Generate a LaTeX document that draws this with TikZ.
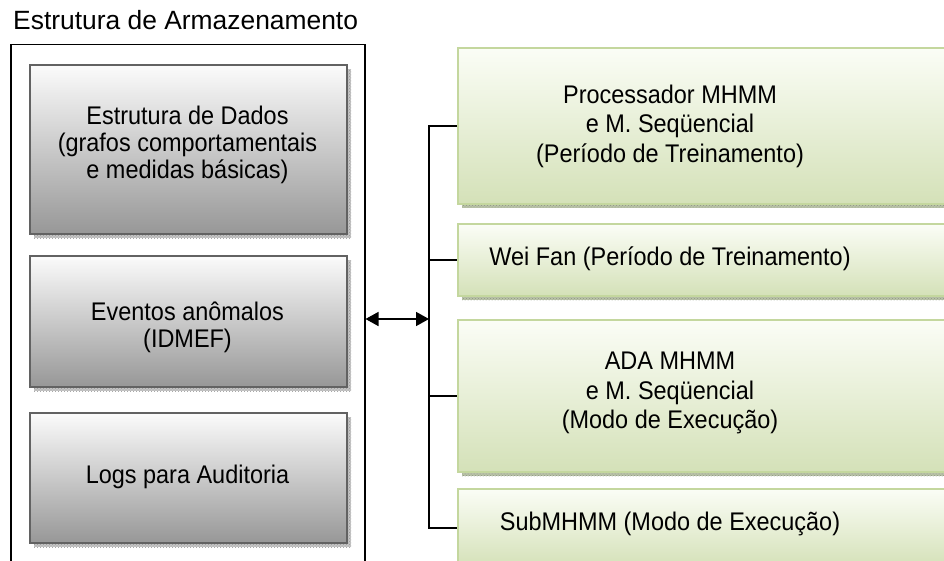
\documentclass[tikz,border=0pt]{standalone}
\usepackage{fontspec}
\setmainfont{Liberation Sans}
\newfontfamily\boxfont[FakeStretch=0.92]{Liberation Sans}
\usetikzlibrary{arrows.meta,patterns}

\definecolor{graytop}{HTML}{FBFBFB}
\definecolor{graybot}{HTML}{979797}
\definecolor{grayedge}{HTML}{626262}
\definecolor{grayshade}{HTML}{C4C4C4}
\definecolor{grayshadedot}{HTML}{969696}
\definecolor{greentop}{HTML}{FBFDF6}
\definecolor{greenbot}{HTML}{D4E1B8}
\definecolor{greenedge}{HTML}{C4D79E}
\definecolor{greenshade}{HTML}{B9C2A8}
\definecolor{greenshadedot}{HTML}{8E9882}

\tikzset{
  lefttxt/.style={font=\boxfont\fontsize{25.5}{26.8}\selectfont, align=center, inner sep=0pt},
  righttxt/.style={font=\boxfont\fontsize{25.5}{29.5}\selectfont, align=center, inner sep=0pt},
  shadowed/.style 2 args={
    preaction={fill=#1, transform canvas={shift={(4pt,-4pt)}}},
    preaction={pattern=crosshatch dots, pattern color=#2, transform canvas={shift={(4pt,-4pt)}}}},
  graybox/.style={draw=grayedge, line width=2.2pt, top color=graytop, bottom color=graybot,
    minimum width=317, anchor=north west, shadowed={grayshade}{grayshadedot}, inner sep=0pt},
  greenbox/.style={draw=greenedge, line width=2pt, top color=greentop, bottom color=greenbot,
    minimum width=503, anchor=north west, shadowed={greenshade}{greenshadedot}, inner sep=0pt},
  frame/.style={draw=black, line width=1.5pt, anchor=north west, inner sep=0pt},
  conn/.style={draw=black, line width=1.5pt},
  biarrow/.style={conn, {Triangle[length=13pt,width=14pt]}-{Triangle[length=13pt,width=14pt]}},
}

\begin{document}
\begin{tikzpicture}[x=1pt,y=-1pt]
\useasboundingbox (0,0) rectangle (944,561);
\begin{scope}
\clip (0,0) rectangle (944,561);

% storage side
\node[font=\fontsize{26.4}{30}\selectfont, inner sep=0pt, anchor=base west] (title) at (13,30)
  {Estrutura de Armazenamento};
\node[frame, minimum width=354, minimum height=560] (store) at (10,44) {};

\node[graybox, minimum height=169] (dados) at (29,64) {};
\node[graybox, minimum height=131] (eventos) at (29,255) {};
\node[graybox, minimum height=130] (logs) at (29,412) {};

\node[lefttxt] (dadostxt) at (187.5,145)
  {Estrutura de Dados\\(grafos comportamentais\\e medidas básicas)};
\node[lefttxt] (eventostxt) at (187.5,327) {Eventos anômalos\\(IDMEF)};
\node[lefttxt] (logstxt) at (187.5,477) {Logs para Auditoria};

% processing side
\node[greenbox, minimum height=156] (proc) at (457,47) {};
\node[greenbox, minimum height=72]  (weifan) at (457,223) {};
\node[greenbox, minimum height=152] (ada) at (457,319) {};
\node[greenbox, minimum height=78]  (sub) at (457,488) {};

\node[righttxt] (proctxt) at (670,126) {Processador MHMM\\e M. Seqüencial\\(Período de Treinamento)};
\node[righttxt] (weifantxt) at (670,259) {Wei Fan (Período de Treinamento)};
\node[righttxt] (adatxt) at (670,393) {ADA MHMM\\e M. Seqüencial\\(Modo de Execução)};
\node[righttxt] (subtxt) at (670,524) {SubMHMM (Modo de Execução)};

% bus joining the processing modules
\coordinate (bus) at (429,0);
\coordinate (link) at (0,319);
\draw[conn] (proc.west) -- (proc.west -| bus) -- (sub.west -| bus) -- (sub.west);
\draw[conn] (weifan.west -| bus) -- (weifan.west);
\draw[conn] (ada.west -| bus) -- (ada.west);

% link between storage and modules
\draw[biarrow] (store.east |- link) -- (bus |- link);
\end{scope}
\end{tikzpicture}
\end{document}
